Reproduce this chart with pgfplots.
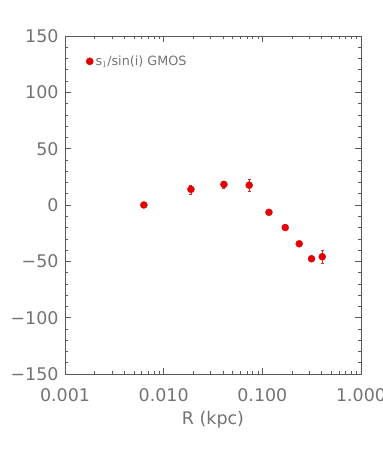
\documentclass[border=0pt]{standalone}
\usepackage{pgfplots}
\pgfplotsset{compat=1.18}
\usepackage{fontspec}
\setmainfont{DejaVu Sans}
\definecolor{txt}{RGB}{115,115,115}
\definecolor{axc}{RGB}{90,90,90}
\definecolor{pt}{RGB}{228,0,0}
\begin{document}
\begin{tikzpicture}
\begin{axis}[
  at={(0,0)}, anchor=south west,
  scale only axis, width=296bp, height=338bp,
  xmode=log, xmin=0.001, xmax=1, ymin=-150, ymax=150,
  axis line style={axc, line width=0.6pt},
  every tick/.style={axc, line width=0.6pt},
  major tick length=6bp, minor tick length=3.5bp,
  xtick={0.001,0.01,0.1,1},
  xticklabels={0.001,0.010,0.100,1.000},
  ytick={-150,-100,-50,0,50,100,150},
  yticklabels={−150,−100,−50,0,50,100,150},
  minor ytick={-140,-130,...,140},
  tick align=inside,
  ticklabel style={font=\fontsize{17.5}{18}\selectfont, text=txt},
  xticklabel style={anchor=center, yshift=-21bp},
  yticklabel style={anchor=east, xshift=-3bp},
  xlabel={R (kpc)},
  xlabel style={font=\fontsize{17.5}{18}\selectfont, text=txt, anchor=center, at={(0.5,0)}, yshift=-46bp},
  legend style={at={(0.06,0.925)}, anchor=west, draw=none, fill=none,
    font=\fontsize{12.8}{13}\selectfont, text=txt, legend cell align=left},
  legend image code/.code={\fill[pt] (0.25cm,0cm) circle (3.6bp);},
]
\addplot[only marks, mark=*, mark size=3.5bp, color=pt,
  error bars/.cd, y dir=both, y explicit,
  error bar style={color=pt!60!gray, line width=0.5pt},
  error mark options={mark size=1.5bp, rotate=90, color=pt!60!gray}]
coordinates {
(0.0063,0) +- (0,1.5)
(0.0189,13.9) +- (0,4)
(0.0408,18.3) +- (0,3)
(0.0736,17.6) +- (0,5)
(0.1167,-6.5) +- (0,1.5)
(0.1706,-20) +- (0,1.5)
(0.2366,-34.4) +- (0,1.5)
(0.315,-47.7) +- (0,2)
(0.405,-45.9) +- (0,6)
};
\addlegendentry{s$_1$/sin(i) GMOS}
\end{axis}
\pgfresetboundingbox
\path[use as bounding box] (-65bp,-75bp) rectangle (318bp,374bp);
\end{tikzpicture}
\end{document}
